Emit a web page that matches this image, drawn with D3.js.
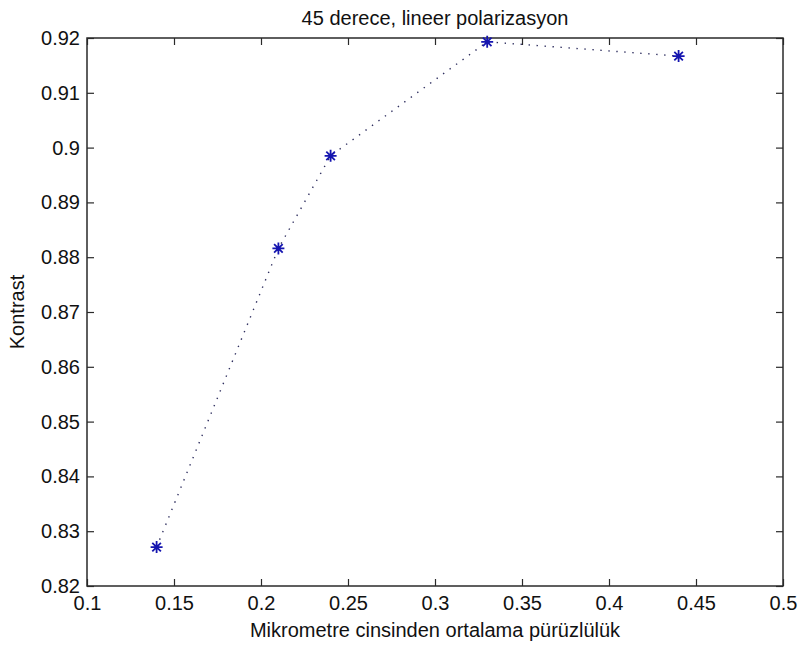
<!DOCTYPE html>
<html>
<head>
<meta charset="utf-8">
<script src="https://cdn.jsdelivr.net/npm/d3@7/dist/d3.min.js"></script>
<style>
  body { margin: 0; background: #fff; }
  svg { display: block; }
  text { font-family: "Liberation Sans", Arial, sans-serif; fill: #111; }
</style>
</head>
<body>
<svg id="chart" width="803" height="650"></svg>
<script>
const roughness = [0.14, 0.21, 0.24, 0.33, 0.44];
const contrast = [0.8271, 0.8816, 0.8985, 0.9193, 0.9167];
const xTicks = [0.1, 0.15, 0.2, 0.25, 0.3, 0.35, 0.4, 0.45, 0.5];
const yTicks = [0.82, 0.83, 0.84, 0.85, 0.86, 0.87, 0.88, 0.89, 0.9, 0.91, 0.92];
const titleText = "45 derece, lineer polarizasyon";
const xLabelText = "Mikrometre cinsinden ortalama pürüzlülük";
const yLabelText = "Kontrast";

const svg = d3.select("#chart");
const m = {left: 87, top: 38, right: 783, bottom: 586};
const x = d3.scaleLinear().domain([0.1, 0.5]).range([m.left, m.right]);
const y = d3.scaleLinear().domain([0.82, 0.92]).range([m.bottom, m.top]);
const fmt = d => String(+d.toFixed(2));
const axisColor = "#2a2a2a";
const fs = 20;

function styleAxis(g) {
  g.select(".domain").remove();
  g.selectAll(".tick line").attr("stroke", axisColor).attr("stroke-width", 1.2);
  g.selectAll(".tick text").attr("font-size", fs).attr("fill", "#111")
    .attr("font-family", '"Liberation Sans", Arial, sans-serif');
}

svg.append("g").attr("transform", `translate(0,${m.bottom})`)
  .call(d3.axisBottom(x).tickValues(xTicks).tickFormat(fmt).tickSize(-7).tickPadding(10))
  .call(styleAxis);
svg.append("g").attr("transform", `translate(0,${m.top})`)
  .call(d3.axisTop(x).tickValues(xTicks).tickFormat("").tickSize(-7))
  .call(styleAxis);
svg.append("g").attr("transform", `translate(${m.left},0)`)
  .call(d3.axisLeft(y).tickValues(yTicks).tickFormat(fmt).tickSize(-7).tickPadding(7))
  .call(styleAxis);
svg.append("g").attr("transform", `translate(${m.right},0)`)
  .call(d3.axisRight(y).tickValues(yTicks).tickFormat("").tickSize(-7))
  .call(styleAxis);

svg.append("rect")
  .attr("x", m.left).attr("y", m.top)
  .attr("width", m.right - m.left).attr("height", m.bottom - m.top)
  .attr("fill", "none").attr("stroke", axisColor).attr("stroke-width", 1.5);

const pts = roughness.map((r, i) => [x(r), y(contrast[i])]);
svg.append("path")
  .attr("d", d3.line()(pts))
  .attr("fill", "none").attr("stroke", "#303060").attr("stroke-width", 1.4)
  .attr("stroke-dasharray", "1.4,6.6").attr("stroke-linecap", "butt");

const star = svg.append("g").selectAll("g").data(pts).join("g")
  .attr("transform", d => `translate(${d[0]},${d[1]})`);
const r = 6, rd = 4.3;
star.append("path")
  .attr("d", `M${-r},0L${r},0M0,${-r}L0,${r}M${-rd},${-rd}L${rd},${rd}M${-rd},${rd}L${rd},${-rd}`)
  .attr("stroke", "#1515b0").attr("stroke-width", 1.8).attr("fill", "none");

svg.append("text").attr("x", (m.left + m.right) / 2).attr("y", 25)
  .attr("text-anchor", "middle").attr("font-size", fs).text(titleText);
svg.append("text").attr("x", (m.left + m.right) / 2).attr("y", 637)
  .attr("text-anchor", "middle").attr("font-size", fs).text(xLabelText);
svg.append("text").attr("transform", `translate(24,${(m.top + m.bottom) / 2}) rotate(-90)`)
  .attr("text-anchor", "middle").attr("font-size", fs).text(yLabelText);
</script>
</body>
</html>
